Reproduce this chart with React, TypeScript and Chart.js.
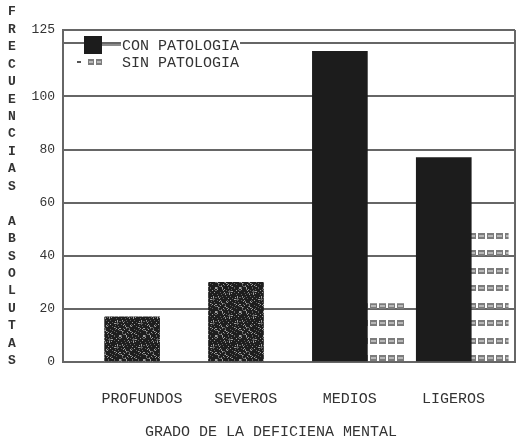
import React, { useEffect, useRef } from 'react';
import { Chart, registerables } from 'chart.js';

Chart.register(...registerables);

const CATEGORIES = ['PROFUNDOS', 'SEVEROS', 'MEDIOS', 'LIGEROS'];
const CON_PATOLOGIA = [17, 30, 117, 77];
const SIN_PATOLOGIA = [0, 0, 22, 49];
const SERIES_LABELS = ['CON PATOLOGIA', 'SIN PATOLOGIA'];
const Y_TICK_VALUES = [0, 20, 40, 60, 80, 100, 120, 125];
const Y_TICK_LABELS = ['0', '20', '40', '60', '80', '100', '', '125'];
const X_TITLE = 'GRADO DE LA DEFICIENA MENTAL';
const Y_TITLE = 'FRECUENCIAS ABSOLUTAS';

const MONO = '"Liberation Mono", "DejaVu Sans Mono", monospace';
const TEXT_COLOR = '#333333';
const LINE_COLOR = '#666666';
const DARK = '#1c1c1c';

function makeSpeckle(): CanvasPattern | string {
  const c = document.createElement('canvas');
  c.width = 24;
  c.height = 24;
  const g = c.getContext('2d');
  if (!g) return DARK;
  g.fillStyle = '#1e1e1e';
  g.fillRect(0, 0, 24, 24);
  for (let y = 0; y < 24; y++) {
    for (let x = 0; x < 24; x++) {
      const h = (x * 73 + y * 151 + x * y * 29) % 23;
      if (h < 5) {
        g.fillStyle = h < 2 ? '#a0a0a0' : '#606060';
        g.fillRect(x, y, 1, 1);
      }
    }
  }
  return g.createPattern(c, 'repeat') || DARK;
}

function makeHatch(): CanvasPattern | string {
  const c = document.createElement('canvas');
  c.width = 9;
  c.height = 35;
  const g = c.getContext('2d');
  if (!g) return '#999';
  const drawSq = (y: number) => {
    g.fillStyle = '#7c7c7c';
    g.fillRect(1, y, 7, 6);
    g.fillStyle = '#b8b8b8';
    g.fillRect(2, y + 2, 5, 2);
  };
  drawSq(5);
  drawSq(23);
  return g.createPattern(c, 'repeat') || '#999';
}

const decorPlugin = {
  id: 'decor',
  afterDraw(chart: any) {
    const { ctx, chartArea } = chart;
    const x0 = chartArea.left;
    const y0 = chartArea.top;
    ctx.save();
    // right frame line
    ctx.strokeStyle = LINE_COLOR;
    ctx.lineWidth = 2;
    ctx.beginPath();
    ctx.moveTo(chartArea.right, chartArea.top);
    ctx.lineTo(chartArea.right, chartArea.bottom);
    ctx.stroke();

    // legend
    const ds = chart.data.datasets;
    ctx.font = '15px ' + MONO;
    ctx.textBaseline = 'middle';
    ctx.textAlign = 'left';
    // CON item
    const t1 = ds[0].label as string;
    const w1 = ctx.measureText(t1).width;
    ctx.fillStyle = '#ffffff';
    ctx.fillRect(x0 + 58, y0 + 8, w1 + 2, 15);
    ctx.fillStyle = DARK;
    ctx.fillRect(x0 + 21, y0 + 6, 18, 18);
    ctx.strokeStyle = LINE_COLOR;
    ctx.lineWidth = 1.5;
    ctx.beginPath();
    ctx.moveTo(x0 + 39, y0 + 15);
    ctx.lineTo(x0 + 58, y0 + 15);
    ctx.stroke();
    ctx.fillStyle = TEXT_COLOR;
    ctx.fillText(t1, x0 + 59, y0 + 16);
    // SIN item
    const t2 = ds[1].label as string;
    ctx.fillStyle = '#555';
    ctx.fillRect(x0 + 14, y0 + 31, 4, 2);
    ctx.fillStyle = '#7c7c7c';
    ctx.fillRect(x0 + 25, y0 + 29, 6, 6);
    ctx.fillRect(x0 + 33, y0 + 29, 6, 6);
    ctx.fillStyle = '#b8b8b8';
    ctx.fillRect(x0 + 26, y0 + 31, 4, 2);
    ctx.fillRect(x0 + 34, y0 + 31, 4, 2);
    ctx.fillStyle = TEXT_COLOR;
    ctx.fillText(t2, x0 + 59, y0 + 33);

    // vertical stacked y title
    ctx.font = 'bold 13px ' + MONO;
    ctx.textAlign = 'center';
    ctx.fillStyle = TEXT_COLOR;
    const chars = Y_TITLE.split('');
    chars.forEach((ch, k) => {
      if (ch !== ' ') ctx.fillText(ch, 12, 12 + k * 17.45);
    });
    ctx.restore();
  },
};

export default function App() {
  const ref = useRef<HTMLCanvasElement | null>(null);

  useEffect(() => {
    document.body.style.margin = '0';
    const canvas = ref.current;
    if (!canvas) return;
    const speckle = makeSpeckle();
    const hatch = makeHatch();
    const tickFont = { family: MONO, size: 13 };
    const labelFont = { family: MONO, size: 15 };
    const LABEL_SHIFT = -0.17;

    const chart = new Chart(canvas, {
      type: 'bar',
      data: {
        datasets: [
          {
            label: SERIES_LABELS[0],
            data: CON_PATOLOGIA.map((v, i) => ({ x: i, y: v })),
            backgroundColor: [speckle, speckle, DARK, DARK],
            borderWidth: 0,
            barThickness: 55,
          },
          {
            label: SERIES_LABELS[1],
            data: SIN_PATOLOGIA.map((v, i) => ({ x: i, y: v })),
            backgroundColor: hatch,
            borderWidth: 0,
            barThickness: 37,
          },
        ],
      } as any,
      options: {
        responsive: false,
        animation: false,
        layout: { padding: { top: 30, right: 6, left: 0, bottom: 0 } },
        plugins: {
          legend: { display: false },
          tooltip: { enabled: false },
        },
        scales: {
          x: {
            type: 'linear',
            offset: false,
            min: -0.93,
            max: 3.421,
            grid: { display: false },
            border: { display: true, color: LINE_COLOR, width: 2 },
            afterBuildTicks: (s: any) => {
              s.ticks = CATEGORIES.map((_, i) => ({ value: i + LABEL_SHIFT }));
            },
            afterFit: (s: any) => {
              s.height = 80;
            },
            ticks: {
              autoSkip: false,
              maxRotation: 0,
              padding: 20,
              font: labelFont,
              color: TEXT_COLOR,
              callback: (_v: any, i: number) => CATEGORIES[i],
            },
            title: {
              display: true,
              text: X_TITLE + '    ',
              padding: { top: 0, bottom: 1 },
              font: labelFont,
              color: TEXT_COLOR,
            },
          },
          y: {
            min: 0,
            max: 125,
            afterBuildTicks: (s: any) => {
              s.ticks = Y_TICK_VALUES.map((v) => ({ value: v }));
            },
            afterFit: (s: any) => {
              s.width = 63;
            },
            grid: { color: LINE_COLOR, lineWidth: 2, drawTicks: false },
            border: { display: true, color: LINE_COLOR, width: 2 },
            ticks: {
              padding: 8,
              font: tickFont,
              color: TEXT_COLOR,
              callback: (_v: any, i: number) => Y_TICK_LABELS[i],
            },
          },
        },
      } as any,
      plugins: [decorPlugin],
    });
    return () => chart.destroy();
  }, []);

  return (
    <div style={{ width: 521, height: 442, background: '#fff' }}>
      <canvas ref={ref} width={521} height={442} style={{ display: 'block' }} />
    </div>
  );
}
